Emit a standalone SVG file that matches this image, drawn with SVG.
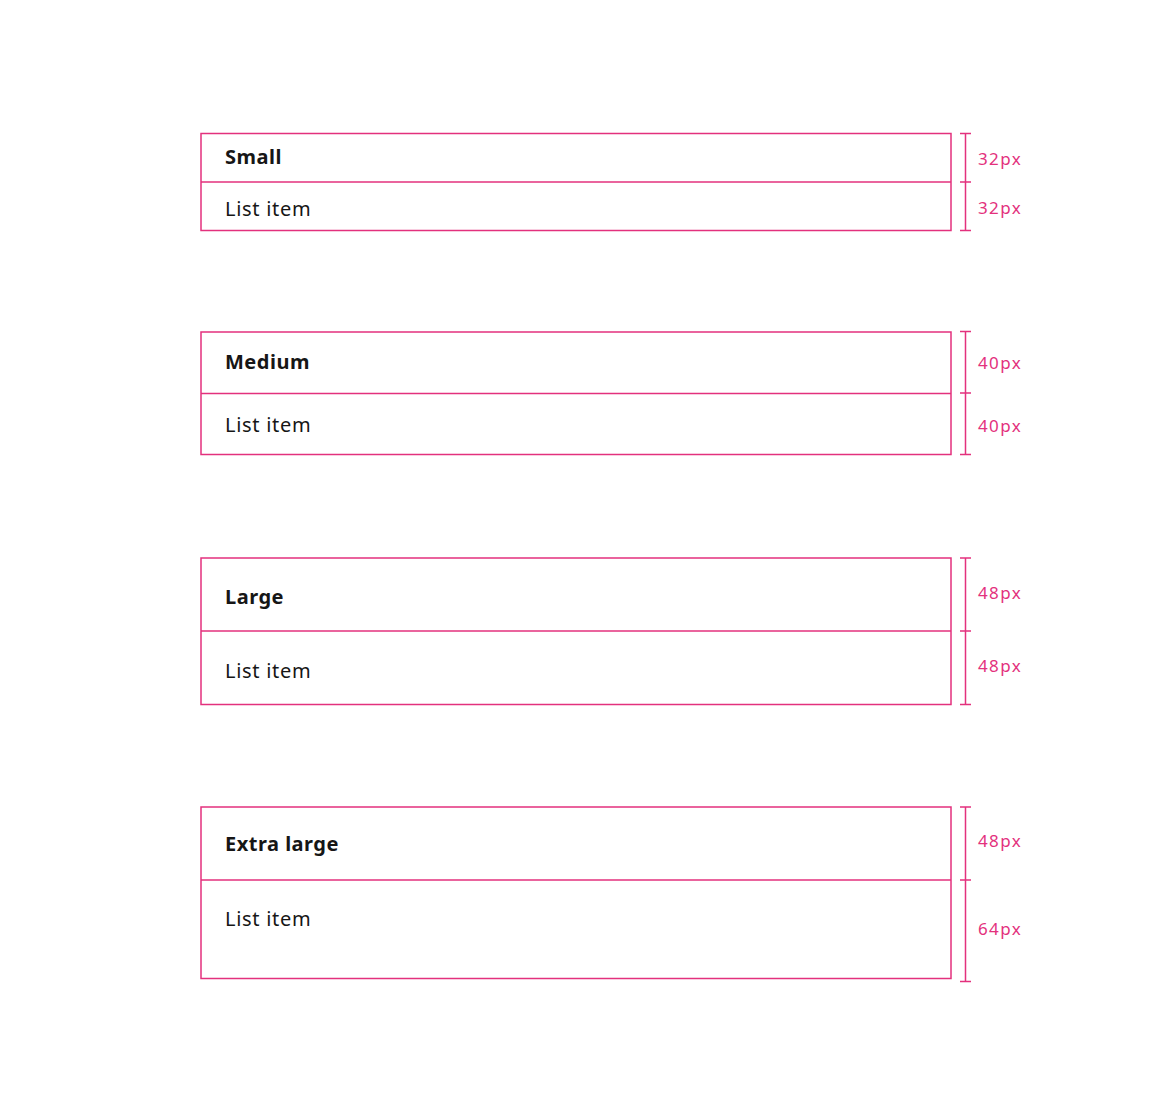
<svg xmlns="http://www.w3.org/2000/svg" width="1152" height="1097" viewBox="0 0 1152 1097">
<style>
.box{fill:#fff;stroke:#e3317d;stroke-width:1.5}
.ln{stroke:#e3317d;stroke-width:1.5;fill:none}
.h{font-family:"Noto Sans","Open Sans",sans-serif;font-size:20px;font-weight:bold;fill:#161616;letter-spacing:0.5px}
.t{font-family:"Noto Sans","Open Sans",sans-serif;font-size:20px;fill:#161616;letter-spacing:0.7px}
.d{font-family:"Noto Sans","Open Sans",sans-serif;font-size:17px;fill:#e3317d;letter-spacing:1.4px}
</style>
<rect width="1152" height="1097" fill="#fff"/>
<g id="small">
<rect class="box" x="201" y="133.5" width="750" height="97"/>
<line class="ln" x1="201" y1="182" x2="951" y2="182"/>
<text class="h" x="225" y="164">Small</text>
<text class="t" x="225" y="216">List item</text>
</g>
<g id="medium">
<rect class="box" x="201" y="332" width="750" height="122.5"/>
<line class="ln" x1="201" y1="393.5" x2="951" y2="393.5"/>
<text class="h" x="225" y="369">Medium</text>
<text class="t" x="225" y="432">List item</text>
</g>
<g id="large">
<rect class="box" x="201" y="558" width="750" height="146.5"/>
<line class="ln" x1="201" y1="631" x2="951" y2="631"/>
<text class="h" x="225" y="604">Large</text>
<text class="t" x="225" y="678">List item</text>
</g>
<g id="xlarge">
<rect class="box" x="201" y="807" width="750" height="171.5"/>
<line class="ln" x1="201" y1="880" x2="951" y2="880"/>
<text class="h" x="225" y="851">Extra large</text>
<text class="t" x="225" y="926">List item</text>
</g>
<g id="dimensions">
<path class="ln" d="M960 133.5H971M960 182H971M960 230.5H971M965.5 133.5V230.5"/>
<text class="d" x="978" y="165">32px</text>
<text class="d" x="978" y="214">32px</text>
<path class="ln" d="M960 331.5H971M960 393H971M960 454.5H971M965.5 331.5V454.5"/>
<text class="d" x="978" y="369">40px</text>
<text class="d" x="978" y="432">40px</text>
<path class="ln" d="M960 558H971M960 631H971M960 704.5H971M965.5 558V704.5"/>
<text class="d" x="978" y="599">48px</text>
<text class="d" x="978" y="672">48px</text>
<path class="ln" d="M960 807H971M960 880H971M960 981.5H971M965.5 807V981.5"/>
<text class="d" x="978" y="847">48px</text>
<text class="d" x="978" y="935">64px</text>
</g>
</svg>
